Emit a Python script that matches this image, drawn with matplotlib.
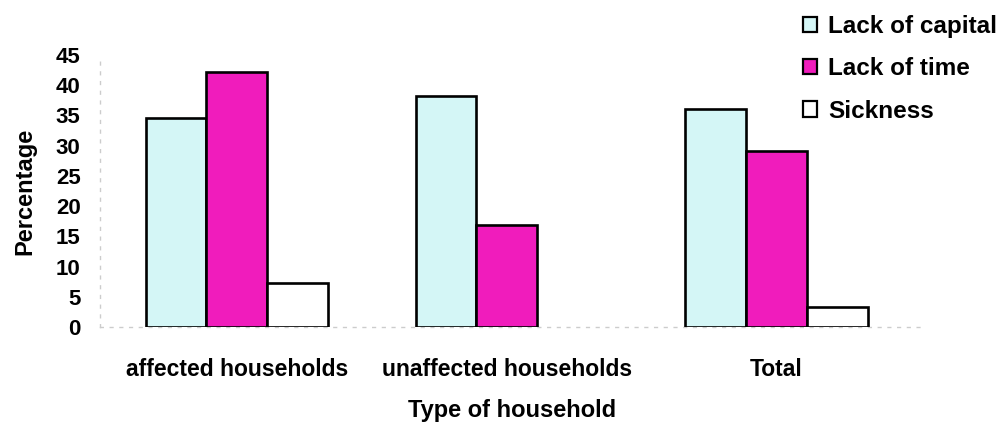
import matplotlib
matplotlib.use("Agg")
import matplotlib.pyplot as plt
import numpy as np

categories = ["affected households", "unaffected households", "Total"]
series_names = ["Lack of capital", "Lack of time", "Sickness"]
lack_of_capital = [34.5, 38.2, 36.0]
lack_of_time = [42.2, 16.8, 29.2]
sickness = [7.3, 0.0, 3.3]
yticks = [0, 5, 10, 15, 20, 25, 30, 35, 40, 45]

colors = ["#d4f6f6", "#f01cbc", "#ffffff"]

plt.rcParams['font.family'] = ['Liberation Sans', 'DejaVu Sans']
plt.rcParams['font.weight'] = 'bold'

W, H = 1002, 423
fig = plt.figure(figsize=(W / 100, H / 100), dpi=100)
left_px, right_px, top_px, bot_px = 100, 925, 55, 327
ax = fig.add_axes([left_px / W, (H - bot_px) / H, (right_px - left_px) / W, (bot_px - top_px) / H])

x = np.arange(len(categories))
w = 0.225
vals = [lack_of_capital, lack_of_time, sickness]
for i, (name, v, c) in enumerate(zip(series_names, vals, colors)):
    heights = np.array(v)
    mask = heights > 0
    ax.bar(x[mask] + (i - 1) * w, heights[mask], width=w, color=c,
           edgecolor="black", linewidth=1.9, label=name, zorder=3)

ax.set_xlim(-0.507, 2.55)
ax.set_ylim(0, 45)
ax.set_yticks(yticks)
ax.set_yticklabels([str(t) for t in yticks], fontsize=16, fontweight='bold')
ax.set_xticks(x)
ax.set_xticklabels(categories, fontsize=16.5)
ax.tick_params(axis='both', length=0)
ax.tick_params(axis='y', pad=14)
ax.tick_params(axis='x', pad=22)

for s in ['top', 'right']:
    ax.spines[s].set_visible(False)
for s in ['left', 'bottom']:
    ax.spines[s].set_color('#cccccc')
    ax.spines[s].set_linestyle((0, (2, 5)))
    ax.spines[s].set_linewidth(1.0)

ax.set_ylabel("Percentage", fontsize=17, fontweight='bold', labelpad=14)
ax.set_xlabel("Type of household", fontsize=17, fontweight='bold', labelpad=13)

handles, labels = ax.get_legend_handles_labels()
leg = fig.legend(handles, labels, loc='upper left', bbox_to_anchor=(0.801, 0.965),
                 frameon=False, fontsize=17.5, handlelength=0.6, handleheight=0.6,
                 handletextpad=0.45, labelspacing=0.8, borderaxespad=0, borderpad=0)
for t in leg.get_texts():
    t.set_fontweight('bold')
for p in leg.get_patches():
    p.set_linewidth(1.6)

fig.savefig("out.png", dpi=100)
